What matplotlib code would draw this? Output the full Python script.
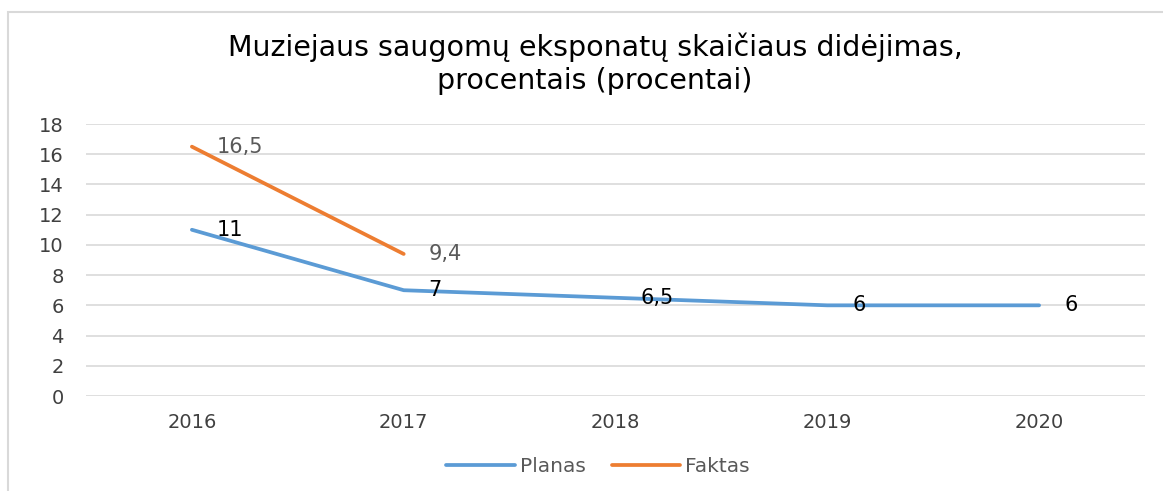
import matplotlib
matplotlib.use("Agg")
import matplotlib.pyplot as plt
from matplotlib.patches import Rectangle

years = ["2016", "2017", "2018", "2019", "2020"]
planas = [11, 7, 6.5, 6, 6]
faktas = [16.5, 9.4]
planas_labels = ["11", "7", "6,5", "6", "6"]
faktas_labels = ["16,5", "9,4"]
yticks = [0, 2, 4, 6, 8, 10, 12, 14, 16, 18]

W, H = 1163, 491
fig = plt.figure(figsize=(W / 100, H / 100), dpi=100)
plt.rcParams['font.family'] = ['DejaVu Sans']

# chart border
fig.patches.append(Rectangle((8 / W, -0.1), 1.2, 1 - 12 / H + 0.1, transform=fig.transFigure,
                             fill=False, edgecolor="#D9D9D9", linewidth=1.5))

ax = fig.add_axes([86 / W, 1 - 396 / H, (1145 - 86) / W, (396 - 124) / H])
x = list(range(len(years)))
blue = "#5B9BD5"
orange = "#ED7D31"
ax.plot(x, planas, color=blue, linewidth=2.7, solid_capstyle="round", label="Planas", zorder=3)
ax.plot(x[:len(faktas)], faktas, color=orange, linewidth=2.7, solid_capstyle="round", label="Faktas", zorder=3)

for xi, v, lab in zip(x, planas, planas_labels):
    ax.annotate(lab, (xi, v), xytext=(18, 0), textcoords="offset points",
                ha="left", va="center", fontsize=15, color="black", zorder=4)
for xi, v, lab in zip(x, faktas, faktas_labels):
    ax.annotate(lab, (xi, v), xytext=(18, 0), textcoords="offset points",
                ha="left", va="center", fontsize=15, color="#595959", zorder=4)

ax.set_xlim(-0.5, len(years) - 0.5)
ax.set_ylim(0, 18)
ax.set_yticks(yticks)
ax.set_yticklabels([str(t) for t in yticks])
ax.set_xticks(x)
ax.set_xticklabels(years)
ax.tick_params(axis="y", length=0, pad=16, labelsize=14, labelcolor="#404040")
ax.tick_params(axis="x", length=0, pad=12, labelsize=14, labelcolor="#404040")
ax.grid(axis="y", color="#D9D9D9", linewidth=1.2)
ax.set_axisbelow(True)
for s in ax.spines.values():
    s.set_visible(False)

fig.text(595 / W, 1 - 47 / H, "Muziejaus saugomų eksponatų skaičiaus didėjimas,",
         ha="center", va="center", fontsize=20.5, color="black")
fig.text(595 / W, 1 - 81 / H, "procentais (procentai)",
         ha="center", va="center", fontsize=20.5, color="black")

leg = fig.legend(loc="center", bbox_to_anchor=(598 / W, 1 - 467 / H), ncol=2, frameon=False,
                 fontsize=14.5, handlelength=3.4, handletextpad=0.25, columnspacing=1.3,
                 labelcolor="#595959")

fig.savefig("out.png", dpi=100)
